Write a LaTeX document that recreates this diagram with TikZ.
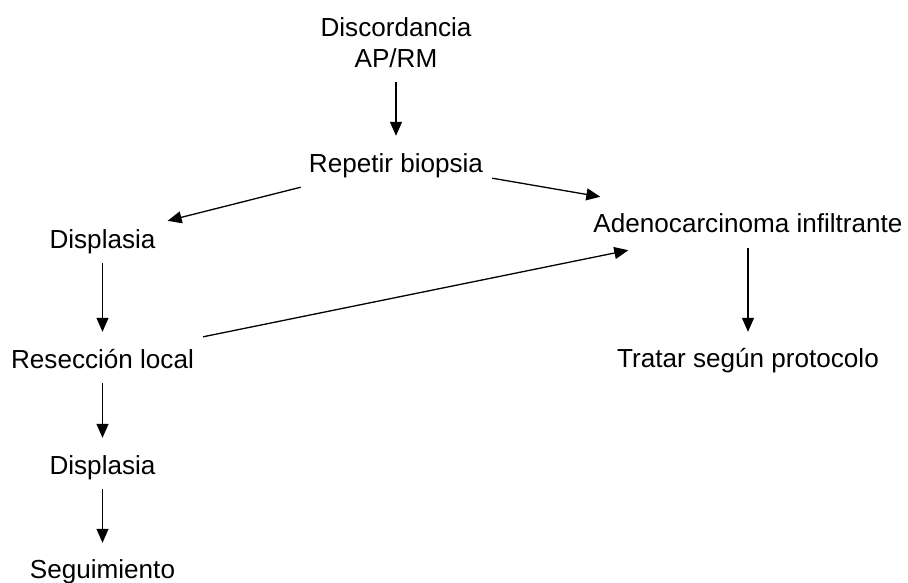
\documentclass[tikz,border=0pt]{standalone}
\usepackage{fontspec}
\setmainfont{Liberation Sans}
\usetikzlibrary{arrows.meta}

\begin{document}
\begin{tikzpicture}[x=1pt,y=-1pt,
  box/.style={inner sep=0pt,text height=19pt,text depth=6pt,font=\fontsize{26.1}{31}\selectfont},
  arr/.style={line width=1.3pt,-{Triangle[length=14pt,width=12pt]}},
  flow/.style={arr,shorten <=9pt,shorten >=17pt}]
  \useasboundingbox (0,0) rectangle (908,583);
  % starting point and first step
  \node[inner sep=0pt,align=center,anchor=north,font=\fontsize{26.1}{31}\selectfont] (disc) at (396,17) {Discordancia\\AP/RM};
  \node[box,anchor=base] (rep) at (396,173) {Repetir biopsia};
  % left branch
  \node[box,anchor=base] (disp1) at (102.5,248) {Displasia};
  \node[box,anchor=base] (res) at (102.5,368) {Resección local};
  \node[box,anchor=base] (disp2) at (102.5,474) {Displasia};
  \node[box,anchor=base] (seg) at (102.5,578) {Seguimiento};
  % right branch
  \node[box,anchor=base] (adeno) at (748,233) {Adenocarcinoma infiltrante};
  \node[box,anchor=base] (trat) at (748,367) {Tratar según protocolo};
  % vertical steps
  \draw[flow,shorten <=14pt,shorten >=18pt] (disc) -- (rep);
  \draw[flow] (disp1) -- (res);
  \draw[flow] (res) -- (disp2);
  \draw[flow,shorten >=16pt] (disp2) -- (seg);
  \draw[flow,shorten >=16pt] (adeno) -- (trat);
  % slanted steps
  \draw[arr] ([shift={(-8,8)}]rep.south west) -- ([shift={(12,-8)}]disp1.north east);
  \draw[arr] ([shift={(9,-1)}]rep.south east) -- ([shift={(7,-17)}]adeno.north west);
  \draw[arr] ([shift={(9,-12)}]res.north east) -- ([shift={(35,11)}]adeno.south west);
\end{tikzpicture}
\end{document}
